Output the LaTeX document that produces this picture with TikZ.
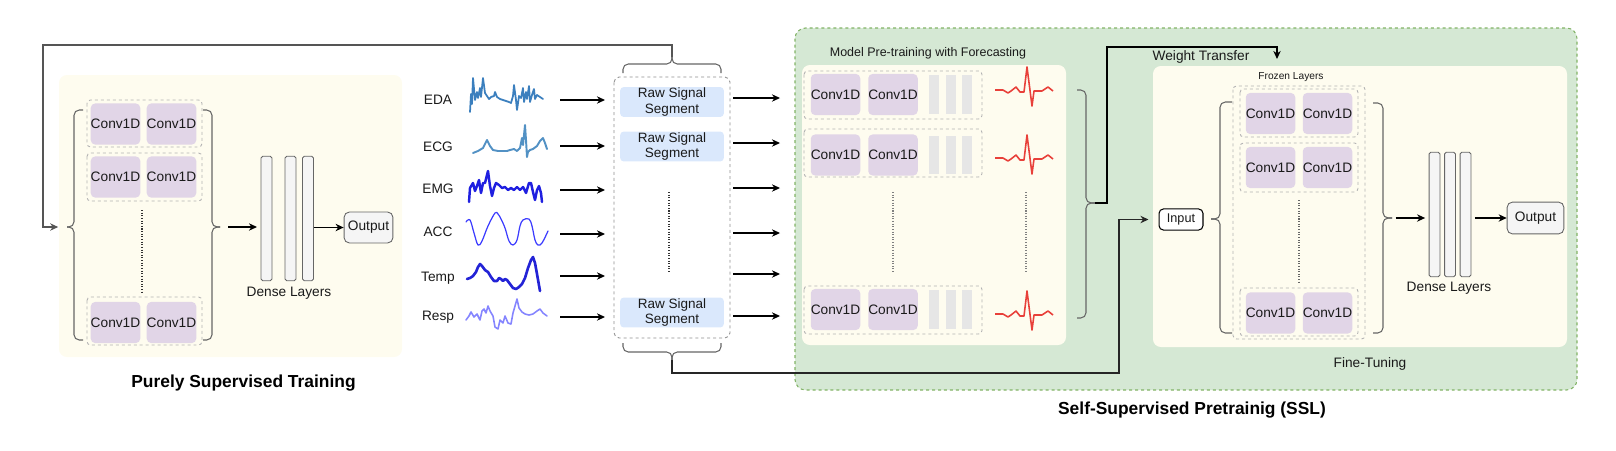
\documentclass[tikz,border=0pt]{standalone}
\usepackage{fontspec}
\setmainfont{Liberation Sans}
\usetikzlibrary{arrows.meta}
\definecolor{convc}{HTML}{E1D5E7}
\definecolor{segc}{HTML}{DAE8FC}
\definecolor{yelc}{HTML}{FEFCEF}
\definecolor{grnc}{HTML}{D5E8D4}
\definecolor{grnb}{HTML}{82B366}
\definecolor{densec}{HTML}{F5F5F5}
\definecolor{densed}{HTML}{666666}
\definecolor{pbarc}{HTML}{E6E6E6}
\definecolor{dashc}{HTML}{B3B3B3}
\definecolor{bracec}{HTML}{666666}
\definecolor{loopc}{HTML}{555555}
\definecolor{dotc}{HTML}{333333}
\definecolor{txtc}{HTML}{1A1A1A}
\definecolor{edac}{HTML}{3B7FBE}
\definecolor{ecgc}{HTML}{5291C4}
\definecolor{emgc}{HTML}{1F1FE0}
\definecolor{accc}{HTML}{3C3CFF}
\definecolor{tempc}{HTML}{2323D6}
\definecolor{respc}{HTML}{8585FF}
\definecolor{redc}{HTML}{E8403A}
\begin{document}
\begin{tikzpicture}[x=0.02cm,y=-0.02cm,
  txt/.style={font=\fontsize{7.8}{9}\selectfont, text=txtc, inner sep=0pt},
  conv/.style={txt, fill=convc, rounded corners=2.5pt, minimum width=28pt, minimum height=23.4pt},
  seg/.style={txt, fill=segc, rounded corners=2pt, minimum width=59pt, minimum height=17pt, align=center, font=\fontsize{7.7}{8.6}\selectfont},
  densebar/.style={draw=densed, fill=densec, line width=0.5pt, rounded corners=1pt, minimum width=6.2pt, minimum height=70.9pt, inner sep=0pt},
  pbar/.style={fill=pbarc, minimum width=5.7pt, minimum height=22.1pt, inner sep=0pt},
  outbox/.style={txt, draw=densed, fill=densec, line width=0.5pt, rounded corners=3pt},
  rowbox/.style={draw=dashc, dash pattern=on 1.7pt off 1.7pt, line width=0.5pt, rounded corners=2pt},
  panel/.style={fill=yelc, rounded corners=4.5pt},
  brace/.style={draw=bracec, line width=0.6pt, rounded corners=3pt},
  arr/.style={draw=black, line width=0.6pt, -{Stealth[length=4.6pt,width=4.2pt]}},
  loopline/.style={draw=loopc, line width=0.7pt},
  vdots/.style={draw=dotc, line width=1.1pt, dash pattern=on 0.6pt off 0.9pt},
  title/.style={font=\fontsize{9.9}{12}\selectfont\bfseries, text=black, inner sep=0pt},
  sig/.style={line join=round, line cap=round},
]
\useasboundingbox (0,0) rectangle (1616,450);

% ---------- panels ----------
\fill[panel] (59,75) rectangle (402,357);
\draw[fill=grnc, draw=grnb, line width=0.6pt, dash pattern=on 1.7pt off 1.7pt, rounded corners=6pt] (795,28) rectangle (1577,390);
\fill[panel] (802,65) rectangle (1066,345);
\fill[panel] (1153,66) rectangle (1567,347);

% ---------- left: purely supervised ----------
\draw[rowbox] (87,100) rectangle (202,147);
\draw[rowbox] (87,153) rectangle (202,201);
\draw[rowbox] (87,297) rectangle (202,345);
\node[conv] (lc11) at (115.5,124) {Conv1D};
\node[conv] (lc12) at (171.5,124) {Conv1D};
\node[conv] (lc21) at (115.5,177) {Conv1D};
\node[conv] (lc22) at (171.5,177) {Conv1D};
\node[conv] (lc31) at (115.5,322.5) {Conv1D};
\node[conv] (lc32) at (171.5,322.5) {Conv1D};
\draw[vdots] (142,210) -- (142,292);
\draw[brace] (83,110) -- (74,110) -- (74,227) -- (67,227);
\draw[brace] (83,340) -- (74,340) -- (74,227) -- (67,227);
\draw[brace] (203,110) -- (212,110) -- (212,227) -- (220,227);
\draw[brace] (203,340) -- (212,340) -- (212,227) -- (220,227);
\coordinate (ltip) at (67,227);
\coordinate (lrtip) at (220,227);
\node[densebar] (ld1) at (266.5,218.5) {};
\node[densebar] (ld2) at (290.5,218.5) {};
\node[densebar] (ld3) at (308,218.5) {};
\node[txt] (ldl) at (289,293) {Dense Layers};
\node[outbox, minimum width=27.8pt, minimum height=17.6pt] (lout) at (368.5,227.5) {Output};
\draw[arr] (lrtip) ++(8,0) coordinate (lra) -- (257,227) coordinate (lrb);
\draw[arr] (ld3.east |- lout.west) -- (lout.west);
\node[title] (ptitle) at (243.5,383) {Purely Supervised Training};

% ---------- signals ----------
\node[txt] (lEDA) at (438,100) {EDA};
\node[txt] (lECG) at (438,147) {ECG};
\node[txt] (lEMG) at (438,189) {EMG};
\node[txt] (lACC) at (438,232) {ACC};
\node[txt] (lTemp) at (438,278) {Temp};
\node[txt] (lResp) at (438,317) {Resp};

\draw[sig, edac, line width=1pt] plot coordinates {(470,112) (471,94) (472,104) (473,78) (475,100) (477,92) (478,98) (480,88) (481,97) (483,78) (485,93) (487,96) (489,99) (491,97) (494,96) (495,92) (497,97) (500,99) (503,100) (506,101) (509,102) (511,103) (513,96) (514,85) (516,100) (517,110) (519,96) (521,98) (523,88) (524,102) (526,92) (527,99) (529,86) (530,102) (532,95) (534,89) (535,99) (537,95) (540,97) (543,99)};
\draw[sig, ecgc, line width=1.1pt] plot coordinates {(473,153) (478,151) (483,148) (487,140) (490,146) (493,150) (498,151) (503,151) (507,151) (510,150) (514,149) (517,151) (520,148) (522,138) (523,145) (525,125) (526,140) (527,157) (528,152) (530,150) (533,149) (537,146) (540,141) (543,138) (545,143) (547,149)};
\draw[sig, emgc, line width=1.4pt] plot coordinates {(469,202) (470,188) (473,183) (475,191) (477,186) (479,180) (481,193) (483,183) (485,183) (488,171) (490,186) (492,196) (494,188) (496,183) (499,185) (502,188) (505,187) (508,190) (511,188) (514,190) (517,187) (520,190) (523,187) (526,193) (529,183) (531,183) (533,192) (535,200) (537,190) (539,186) (541,193) (542,202)};
\draw[sig, accc, line width=0.7pt] plot[smooth, tension=0.6] coordinates {(466,222) (470,220) (474,233) (478,245) (482,241) (488,226) (495,213) (498,214) (501,219) (505,228) (509,241) (513,245) (517,240) (520,226) (523,220) (529,219) (532,226) (535,240) (538,245) (542,243) (548,231)};
\draw[sig, tempc, line width=1.5pt] plot coordinates {(467,279) (470,278) (473,276) (476,272) (478,267) (480,264) (482,266) (485,270) (488,272) (491,277) (494,281) (497,281) (499,278) (501,279) (503,281) (505,279) (507,280) (510,284) (513,288) (516,289) (519,287) (522,284) (525,278) (528,268) (531,260) (533,257) (535,263) (537,274) (540,291)};
\draw[sig, respc, line width=0.9pt] plot coordinates {(466,320) (469,316) (471,312) (474,317) (477,314) (480,320) (482,311) (484,309) (486,313) (488,306) (490,311) (493,316) (495,327) (498,329) (500,320) (503,323) (505,316) (508,323) (511,324) (513,313) (515,306) (517,299) (519,308) (522,312) (525,314) (529,315) (533,314) (537,311) (540,309) (543,313) (547,316)};

\foreach \y [count=\i] in {100,146,190,234,276,317} {
  \coordinate (sa\i) at (560,\y);
  \coordinate (sb\i) at (605,\y);
  \draw[arr] (sa\i) -- (sb\i);
}

% ---------- raw segments ----------
\draw[draw=dashc!80!black, dash pattern=on 1.7pt off 1.7pt, line width=0.5pt, rounded corners=3pt] (614,77) rectangle (730,338);
\node[seg] (seg1) at (672,102) {Raw Signal\\Segment};
\node[seg] (seg2) at (672,146.5) {Raw Signal\\Segment};
\node[seg] (seg3) at (672,312.5) {Raw Signal\\Segment};
\draw[vdots] (669,192) -- (669,273);
\draw[brace] (623,73) -- (623,64) -- (672,64) -- (672,57);
\draw[brace] (721,73) -- (721,64) -- (672,64) -- (672,57);
\draw[brace] (623,343) -- (623,352) -- (672,352) -- (672,360);
\draw[brace] (721,343) -- (721,352) -- (672,352) -- (672,360);
\coordinate (toptip) at (672,57);
\coordinate (bottip) at (672,360);
\foreach \y [count=\i] in {98,143,188,233,274,316} {
  \coordinate (ra\i) at (733,\y);
  \coordinate (rb\i) at (780,\y);
  \draw[arr] (ra\i) -- (rb\i);
}

% feedback loop to supervised model
\draw[loopline, -{Stealth[length=4.6pt,width=4.2pt]}, shorten >=5pt] (toptip) -- (672,45) -| (43,227) -- (ltip);

% ---------- pretraining ----------
\node[txt, font=\fontsize{7.1}{8}\selectfont] (ptl) at (928,53) {Model Pre-training with Forecasting};
\draw[rowbox] (804,71) rectangle (982,119);
\draw[rowbox] (804,129) rectangle (982,177);
\draw[rowbox] (804,286) rectangle (982,334);
\foreach \y [count=\i] in {94.5,155,309.5} {
  \node[conv] (pc\i a) at (835.5,\y) {Conv1D};
  \node[conv] (pc\i b) at (893,\y) {Conv1D};
  \node[pbar] (pb\i a) at (934,\y) {};
  \node[pbar] (pb\i b) at (951,\y) {};
  \node[pbar] (pb\i c) at (967,\y) {};
}
\foreach \dy in {0,68,224} {
  \begin{scope}[shift={(0,\dy)}]
    \draw[redc, line width=0.9pt, line join=round] (995,90) -- (1003,90) -- (1008,93) -- (1011,91) -- (1016,87) -- (1020,92) -- (1024,92) -- (1027,67) -- (1032,106) -- (1034,91) -- (1042,91) -- (1048,87) -- (1053,91);
  \end{scope}
}
\draw[vdots, draw=gray] (893,192) -- (893,273);
\draw[vdots, draw=gray] (1026,192) -- (1026,273);
\draw[brace] (1077,90) -- (1086,90) -- (1086,203) -- (1095,203);
\draw[brace] (1077,318) -- (1086,318) -- (1086,203) -- (1095,203);
\coordinate (ptip) at (1095,203);
\coordinate (wtend) at (1277,59);
\draw[arr] (ptip) -- (1107,203) |- (1277,47) -- (wtend);
\node[txt] (wtl) at (1201,57) {Weight Transfer};

% ---------- fine-tuning ----------
\node[txt, font=\fontsize{5.8}{7}\selectfont] (frl) at (1291,77) {Frozen Layers};
\draw[rowbox] (1233,86) rectangle (1365,339);
\draw[rowbox] (1240,89) rectangle (1358,137);
\draw[rowbox] (1240,143) rectangle (1358,192);
\draw[rowbox] (1240,288) rectangle (1358,336);
\foreach \y [count=\i] in {113.5,167.5,313} {
  \node[conv] (fc\i a) at (1270.5,\y) {Conv1D};
  \node[conv] (fc\i b) at (1327.5,\y) {Conv1D};
}
\draw[vdots, draw=gray!80!black] (1299,200) -- (1299,282);
\node[txt, draw=black, fill=white, line width=0.6pt, rounded corners=2.5pt, minimum width=25pt, minimum height=12pt, font=\fontsize{7.2}{8}\selectfont] (inp) at (1181,219.5) {Input};
\draw[brace] (1232,102) -- (1220,102) -- (1220,219) -- (1211,219);
\draw[brace] (1232,333) -- (1220,333) -- (1220,219) -- (1211,219);
\draw[brace] (1373,103) -- (1383,103) -- (1383,218) -- (1392,218);
\draw[brace] (1373,333) -- (1383,333) -- (1383,218) -- (1392,218);
\coordinate (ftip) at (1392,218);
\node[densebar] (rd1) at (1434.5,214.5) {};
\node[densebar] (rd2) at (1450,214.5) {};
\node[densebar] (rd3) at (1465.5,214.5) {};
\node[txt] (rdl) at (1449,288) {Dense Layers};
\node[outbox, minimum width=32.3pt, minimum height=18.1pt] (rout) at (1535.5,218) {Output};
\draw[arr, shorten <=2pt, shorten >=2pt] (ftip) -- (rd1.west |- ftip);
\draw[arr, shorten <=2pt] (rd3.east |- rout.west) -- (rout.west);
\node[txt] (ftl) at (1370,364) {Fine-Tuning};

% bottom loop to fine-tuning input
\draw[loopline, draw=black!85, -{Stealth[length=4.6pt,width=4.2pt]}, shorten >=5.7pt] (bottip) -- (672,373) -| (1119,219.5) -- (inp.west);

\node[title] (stitle) at (1192,410) {Self-Supervised Pretrainig (SSL)};
\end{tikzpicture}
\end{document}
